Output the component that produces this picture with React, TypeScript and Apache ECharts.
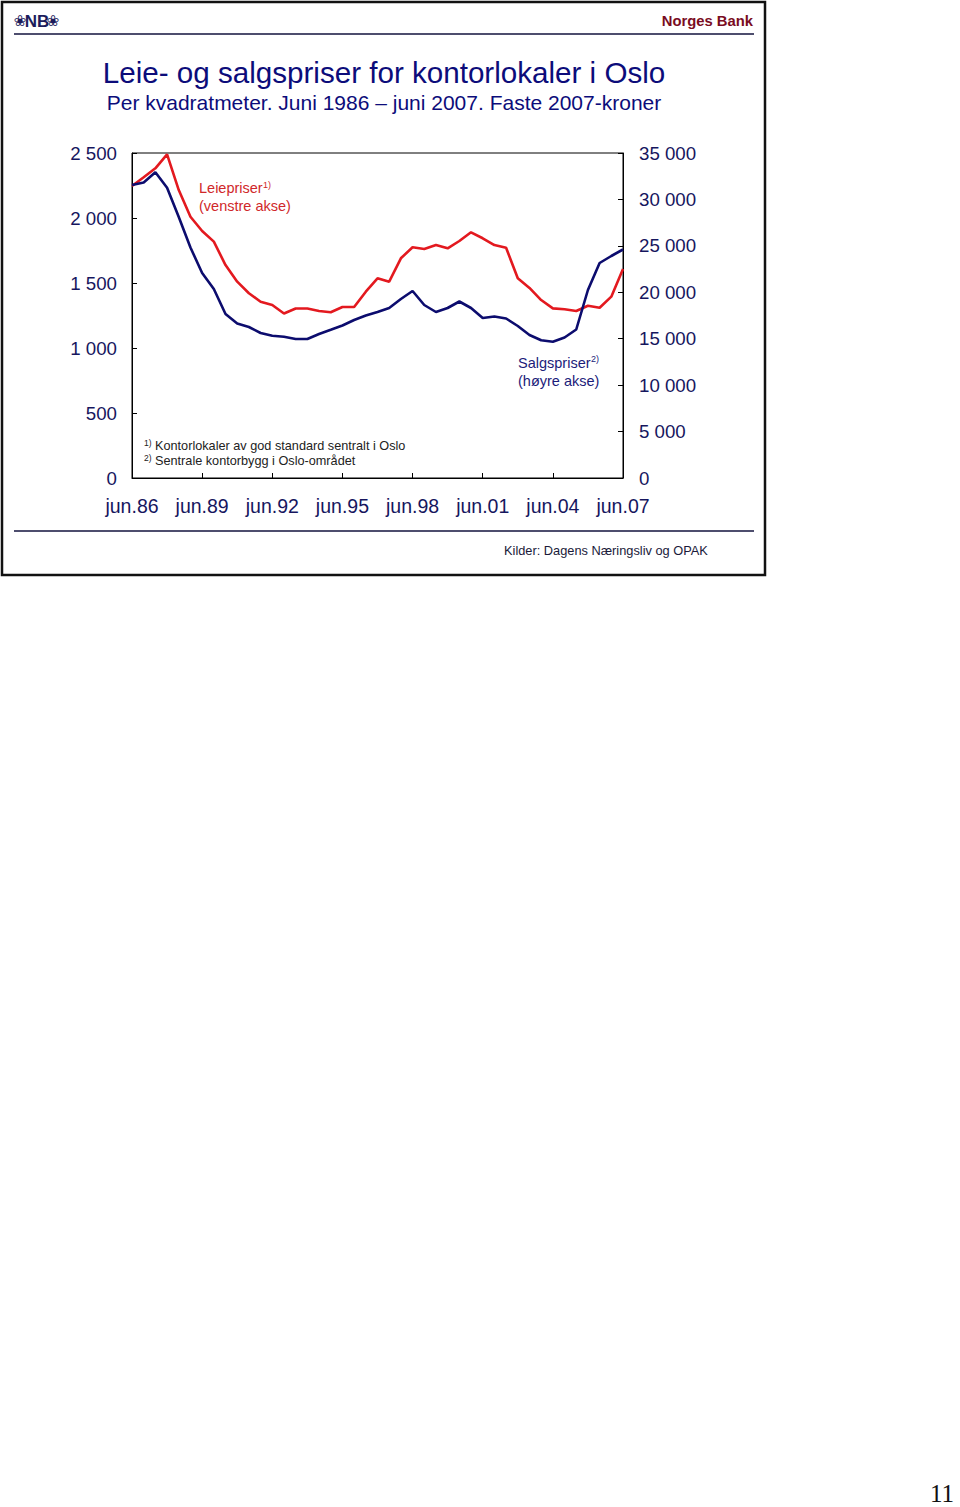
import React, { useEffect, useRef } from "react";
import * as echarts from "echarts";

const periods = [
  "jun.86","des.86","jun.87","des.87","jun.88","des.88","jun.89","des.89",
  "jun.90","des.90","jun.91","des.91","jun.92","des.92","jun.93","des.93",
  "jun.94","des.94","jun.95","des.95","jun.96","des.96","jun.97","des.97",
  "jun.98","des.98","jun.99","des.99","jun.00","des.00","jun.01","des.01",
  "jun.02","des.02","jun.03","des.03","jun.04","des.04","jun.05","des.05",
  "jun.06","des.06","jun.07",
];

// Leiepriser (venstre akse), kroner per kvm
const rentPrices = [
  2246, 2313, 2382, 2490, 2215, 2010, 1900, 1818, 1638, 1510, 1421, 1356, 1331,
  1265, 1304, 1304, 1285, 1275, 1315, 1315, 1433, 1536, 1510, 1690, 1775, 1762,
  1792, 1767, 1823, 1890, 1844, 1792, 1771, 1536, 1462, 1369, 1305, 1298, 1285,
  1325, 1310, 1395, 1608,
];

// Salgspriser (høyre akse), kroner per kvm
const salePrices = [
  31553, 31823, 32921, 31262, 28107, 24823, 22076, 20353, 17661, 16638, 16261,
  15615, 15324, 15206, 14969, 14969, 15507, 15960, 16423, 17015, 17500, 17877,
  18307, 19277, 20138, 18630, 17877, 18307, 19007, 18307, 17230, 17392, 17177,
  16369, 15400, 14829, 14678, 15130, 15992, 20246, 23153, 23907, 24607,
];

const leftTicks = { min: 0, max: 2500, interval: 500 };
const rightTicks = { min: 0, max: 35000, interval: 5000 };

const FONT = '"Liberation Sans", Arial, sans-serif';
const NAVY = "#16165e";
const RED = "#e3191f";
const BLUE = "#0c0c6e";

const fmt = (v: number) => String(v).replace(/\B(?=(\d{3})+(?!\d))/g, " ");

function txt(
  text: string,
  x: number,
  y: number,
  size: number,
  color: string,
  align: string = "left",
  extra: any = {}
) {
  return {
    type: "text",
    x,
    y,
    silent: true,
    style: {
      text,
      fill: color,
      fontSize: size,
      fontFamily: extra.family || FONT,
      fontWeight: extra.weight || "normal",
      align,
      textAlign: align,
      verticalAlign: "middle",
      textVerticalAlign: "middle",
    },
  };
}

export default function App() {
  const ref = useRef<HTMLDivElement>(null);

  useEffect(() => {
    if (!ref.current) return;
    const chart = echarts.init(ref.current, null, { renderer: "svg" });

    const showEvery6 = (i: number) => i % 6 === 0;

    chart.setOption({
      animation: false,
      backgroundColor: "#ffffff",
      grid: {
        left: 132,
        top: 153,
        width: 491,
        height: 325,
        show: true,
        borderColor: "#000",
        borderWidth: 1,
        backgroundColor: "transparent",
      },
      xAxis: {
        type: "category",
        data: periods,
        boundaryGap: false,
        axisLine: { lineStyle: { color: "#000", width: 1 } },
        axisTick: {
          inside: true,
          length: 5,
          interval: showEvery6,
          lineStyle: { color: "#000" },
        },
        axisLabel: {
          interval: showEvery6,
          color: NAVY,
          fontSize: 19.5,
          fontFamily: FONT,
          margin: 18,
          formatter: (v: string) => v,
        },
        splitLine: { show: false },
      },
      yAxis: [
        {
          type: "value",
          position: "left",
          min: leftTicks.min,
          max: leftTicks.max,
          interval: leftTicks.interval,
          axisLine: { show: true, lineStyle: { color: "#000", width: 1 } },
          axisTick: { show: true, inside: true, length: 5, lineStyle: { color: "#000" } },
          axisLabel: {
            color: NAVY,
            fontSize: 18.7,
            fontFamily: FONT,
            margin: 15,
            formatter: (v: number) => fmt(v),
          },
          splitLine: { show: false },
        },
        {
          type: "value",
          position: "right",
          min: rightTicks.min,
          max: rightTicks.max,
          interval: rightTicks.interval,
          axisLine: { show: true, lineStyle: { color: "#000", width: 1 } },
          axisTick: { show: true, inside: true, length: 5, lineStyle: { color: "#000" } },
          axisLabel: {
            color: NAVY,
            fontSize: 18.7,
            fontFamily: FONT,
            margin: 16,
            formatter: (v: number) => fmt(v),
          },
          splitLine: { show: false },
        },
      ],
      series: [
        {
          name: "Leiepriser",
          type: "line",
          yAxisIndex: 0,
          data: rentPrices,
          showSymbol: false,
          symbol: "none",
          lineStyle: { color: RED, width: 2.6 },
          itemStyle: { color: RED },
        },
        {
          name: "Salgspriser",
          type: "line",
          yAxisIndex: 1,
          data: salePrices,
          showSymbol: false,
          symbol: "none",
          lineStyle: { color: BLUE, width: 2.6 },
          itemStyle: { color: BLUE },
        },
      ],
      graphic: [
        {
          type: "rect",
          silent: true,
          shape: { x: 2, y: 2, width: 763, height: 573 },
          style: { fill: "none", stroke: "#111", lineWidth: 2.5 },
        },
        {
          type: "line",
          silent: true,
          shape: { x1: 14, y1: 34, x2: 754, y2: 34 },
          style: { stroke: "#4e4e6e", lineWidth: 2 },
        },
        {
          type: "line",
          silent: true,
          shape: { x1: 14, y1: 531, x2: 754, y2: 531 },
          style: { stroke: "#4e4e6e", lineWidth: 2 },
        },
        txt("❀", 20, 21, 15, "#1c1c5c", "center", { family: '"DejaVu Sans", sans-serif' }),
        txt("NB", 37, 21, 17, "#1c1c5c", "center", { weight: "bold", family: FONT }),
        txt("❀", 53, 21, 15, "#1c1c5c", "center", { family: '"DejaVu Sans", sans-serif' }),
        txt("Norges Bank", 753, 21, 14.8, "#7a0c22", "right", { weight: "bold" }),
        txt("Leie- og salgspriser for kontorlokaler i Oslo", 384, 72, 29.6, "#0c0c7a", "center"),
        txt("Per kvadratmeter. Juni 1986 – juni 2007. Faste 2007-kroner", 384, 102, 21, "#0c0c7a", "center"),
        txt("Leiepriser", 199, 188, 14.5, "#d0282a", "left"),
        txt("1)", 263, 185, 9, "#d0282a", "left"),
        txt("(venstre akse)", 199, 206, 14.5, "#d0282a", "left"),
        txt("Salgspriser", 518, 363, 14.5, "#1c1c7a", "left"),
        txt("2)", 591, 359, 9, "#1c1c7a", "left"),
        txt("(høyre akse)", 518, 381, 14.5, "#1c1c7a", "left"),
        txt("1)", 144, 443, 8.5, "#222", "left"),
        txt("Kontorlokaler av god standard sentralt i Oslo", 155, 446, 12.7, "#222", "left"),
        txt("2)", 144, 458, 8.5, "#222", "left"),
        txt("Sentrale kontorbygg i Oslo-området", 155, 461, 12.7, "#222", "left"),
        txt("Kilder: Dagens Næringsliv og OPAK", 504, 550, 12.8, "#1a1a3a", "left"),
        txt("11", 954, 1493, 25, "#111", "right", { family: '"Liberation Serif", serif' }),
      ],
    });

    return () => chart.dispose();
  }, []);

  return (
    <div
      ref={ref}
      style={{ position: "absolute", left: 0, top: 0, width: 960, height: 1507 }}
    />
  );
}
